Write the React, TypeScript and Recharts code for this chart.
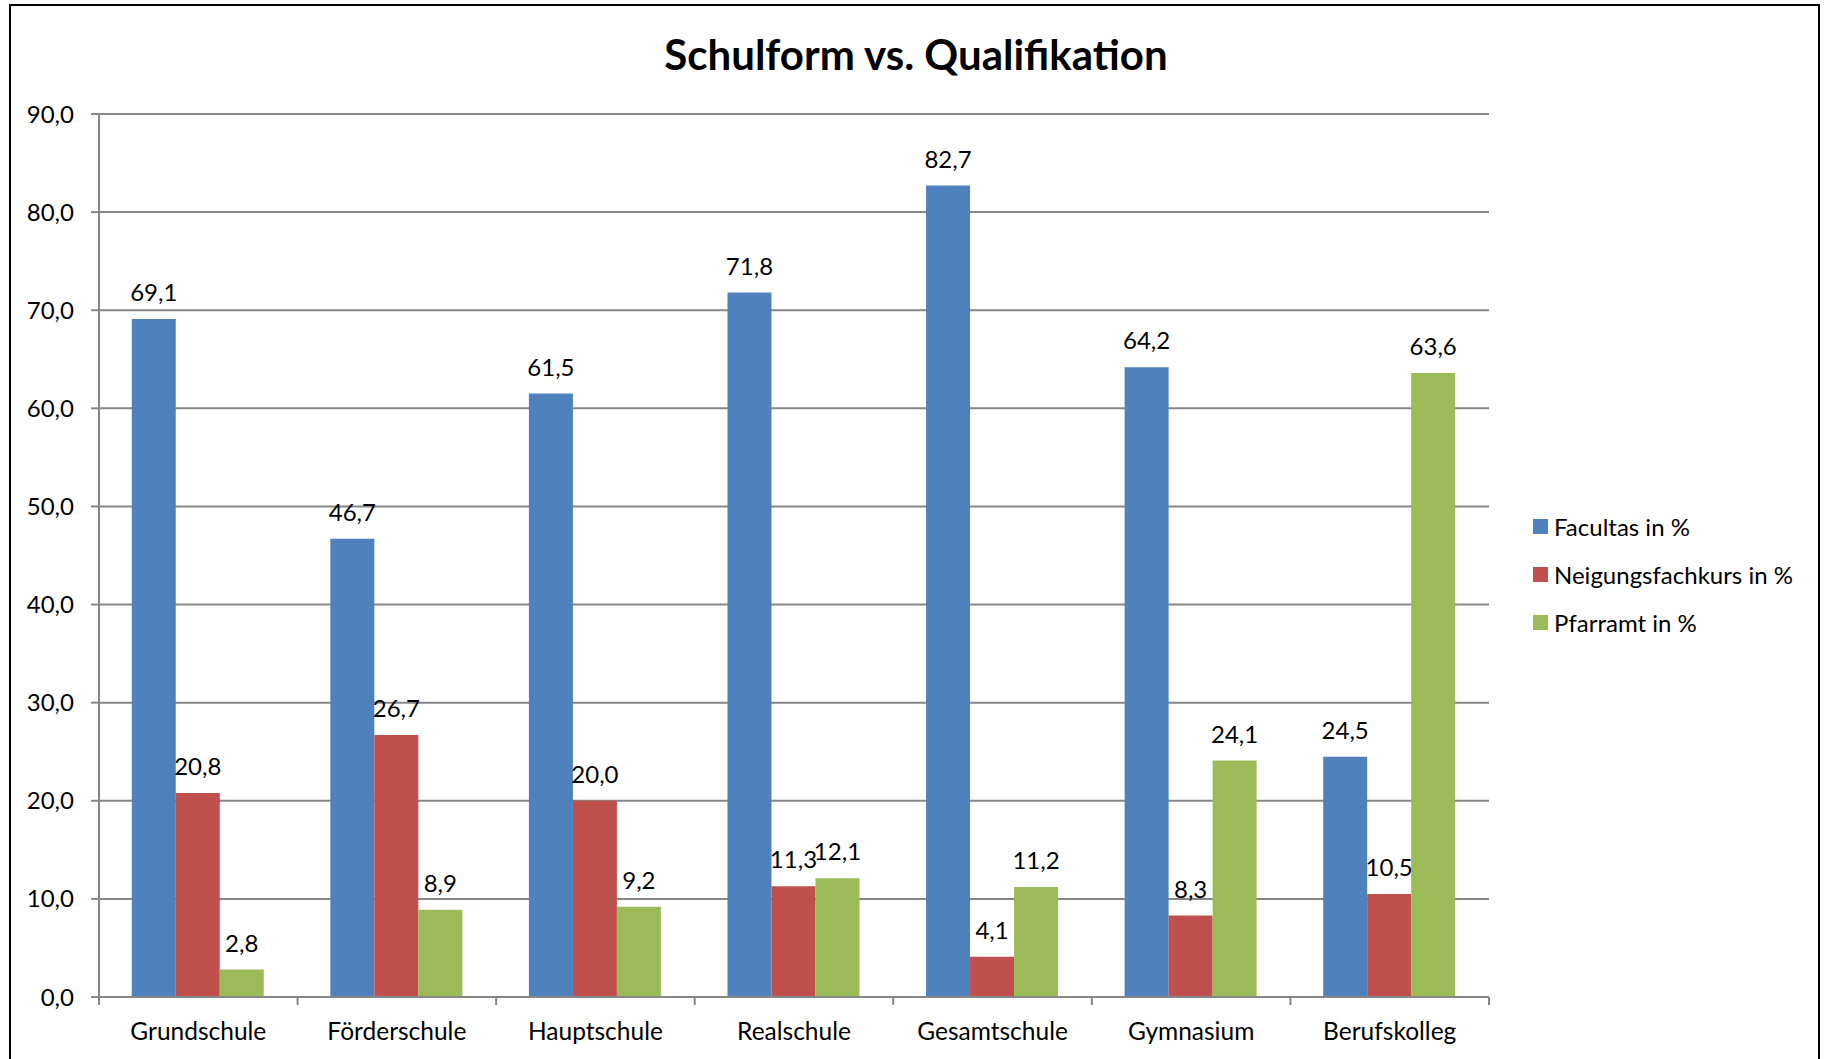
import React from 'react';
import { BarChart, Bar, XAxis, YAxis, CartesianGrid, LabelList } from 'recharts';

const categories = ['Grundschule', 'Förderschule', 'Hauptschule', 'Realschule', 'Gesamtschule', 'Gymnasium', 'Berufskolleg'];
const facultas = [69.1, 46.7, 61.5, 71.8, 82.7, 64.2, 24.5];
const neigungsfachkurs = [20.8, 26.7, 20.0, 11.3, 4.1, 8.3, 10.5];
const pfarramt = [2.8, 8.9, 9.2, 12.1, 11.2, 24.1, 63.6];
const yTicks = [0, 10, 20, 30, 40, 50, 60, 70, 80, 90];
const title = 'Schulform vs. Qualifikation';

const seriesDefs = [
  { key: 'facultas', name: 'Facultas in %', color: '#4F81BD' },
  { key: 'neigungsfachkurs', name: 'Neigungsfachkurs in %', color: '#C0504D' },
  { key: 'pfarramt', name: 'Pfarramt in %', color: '#9BBB59' },
];

const data = categories.map((c, i) => ({
  name: c,
  facultas: facultas[i],
  neigungsfachkurs: neigungsfachkurs[i],
  pfarramt: pfarramt[i],
}));

const FONT = 'Lato, "Noto Sans", sans-serif';
const GRID = '#868686';
const W = 1829;
const H = 1059;
const M = { top: 114, right: 340, bottom: 0, left: 0 };
const X_H = 62;
const Y_W = 99;

const fmt = (v: any) => Number(v).toFixed(1).replace('.', ',');

const XTick = (props: any) => {
  const { x, y, payload, index } = props;
  const half = payload && payload.offset ? payload.offset : (W - M.right - Y_W) / categories.length / 2;
  const last = index === categories.length - 1;
  return (
    <g>
      <line x1={x - half} x2={x - half} y1={y} y2={y + 8} stroke={GRID} strokeWidth={2} />
      {last && <line x1={x + half} x2={x + half} y1={y} y2={y + 8} stroke={GRID} strokeWidth={2} />}
      <text x={x} y={y + 43} textAnchor="middle" fill="#000" fontSize={24.5} fontFamily={FONT}>
        {payload.value}
      </text>
    </g>
  );
};

export default function App() {
  return (
    <div style={{ position: 'relative', width: W, height: H, overflow: 'hidden', background: '#fff', fontFamily: FONT }}>
      <style>{`body{margin:0;}`}</style>
      <div
        style={{
          position: 'absolute',
          left: 9,
          top: 4,
          width: 1811,
          height: 1100,
          border: '2px solid #000',
          boxSizing: 'border-box',
        }}
      />
      <div
        style={{
          position: 'absolute',
          left: 0,
          width: 1832,
          top: 29,
          textAlign: 'center',
          fontSize: 42,
          fontWeight: 700,
          lineHeight: '50px',
          color: '#000',
        }}
      >
        {title}
      </div>
      <div style={{ position: 'absolute', left: 0, top: 0 }}>
        <BarChart width={W} height={H} data={data} margin={M} barCategoryGap="16.5%" barGap={0}>
          <CartesianGrid vertical={false} stroke={GRID} strokeWidth={2} />
          <XAxis
            dataKey="name"
            tick={<XTick />}
            tickLine={false}
            tickSize={0}
            tickMargin={0}
            axisLine={{ stroke: GRID, strokeWidth: 2 }}
            interval={0}
            height={X_H}
          />
          <YAxis
            width={Y_W}
            domain={[0, 90]}
            ticks={yTicks}
            tickFormatter={fmt}
            tickSize={8}
            tickMargin={17}
            tickLine={{ stroke: GRID, strokeWidth: 2 }}
            axisLine={{ stroke: GRID, strokeWidth: 2 }}
            tick={{ fill: '#000', fontSize: 24, fontFamily: FONT }}
            allowDataOverflow
          />
          {seriesDefs.map((s) => (
            <Bar key={s.key} dataKey={s.key} name={s.name} fill={s.color} isAnimationActive={false}>
              <LabelList
                dataKey={s.key}
                position="top"
                offset={18}
                formatter={fmt}
                fill="#000"
                fontSize={24}
                fontFamily={FONT}
              />
            </Bar>
          ))}
        </BarChart>
      </div>
      <div style={{ position: 'absolute', left: 1533, top: 502 }}>
        {seriesDefs.map((s) => (
          <div key={s.key} style={{ display: 'flex', alignItems: 'center', height: 48 }}>
            <div style={{ width: 15, height: 15, background: s.color, marginRight: 6 }} />
            <span style={{ fontSize: 24, color: '#000', whiteSpace: 'nowrap' }}>{s.name}</span>
          </div>
        ))}
      </div>
    </div>
  );
}
